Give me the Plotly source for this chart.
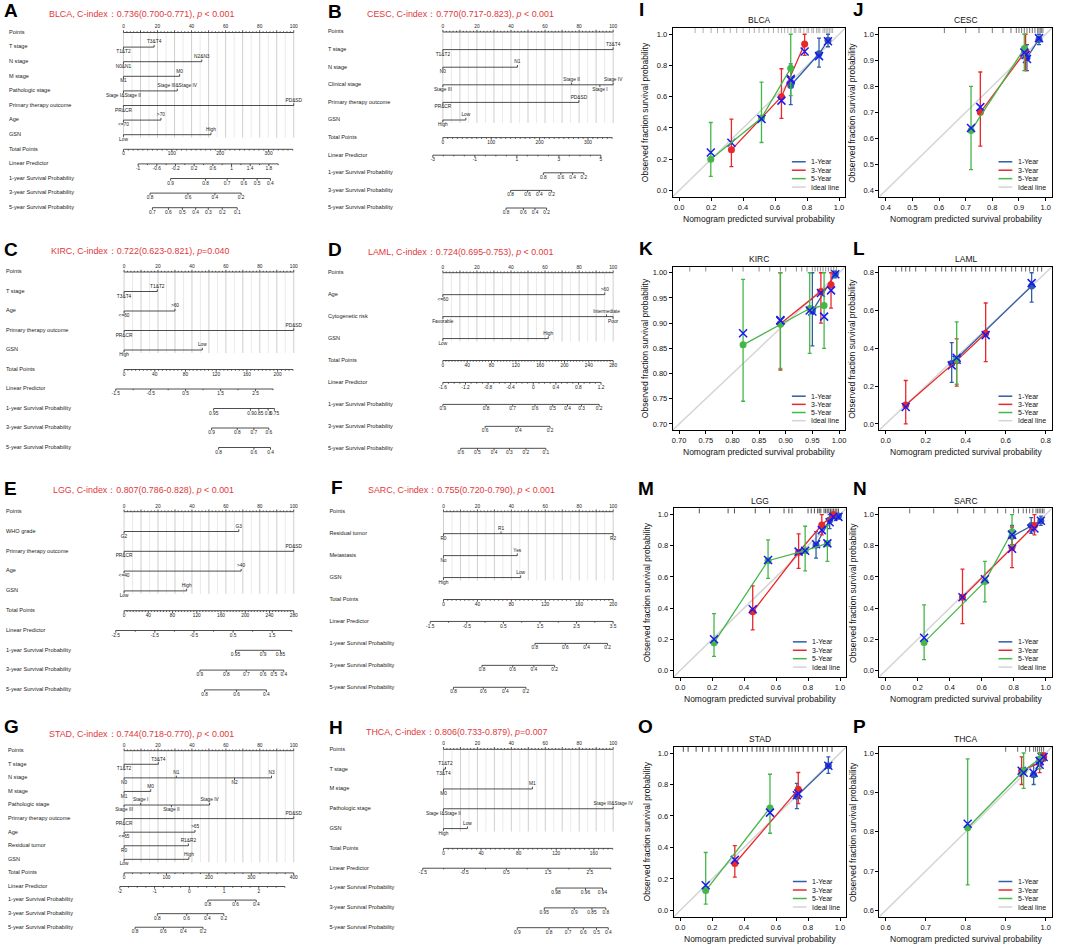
import plotly.graph_objects as go

W, H = 1065, 947
FONT = "Liberation Sans, Arial, sans-serif"
RED_TITLE = "#E2383D"
BLUE, RED, GREEN = "#2F5DA6", "#E8282B", "#45B649"
XBLUE = "#1A1AF0"
IDEAL = "#D4D4D4"

# ============================ NOMOGRAM DATA ============================
# ---- A: BLCA ----
A_title = "BLCA, C-index：0.736(0.700-0.771), <i>p</i> &lt; 0.001"
A_vars = ["T stage", "N stage", "M stage", "Pathologic stage",
          "Primary therapy outcome", "Age", "GSN"]
A_levels = [["T1&T2", "T3&T4"], ["N0&N1", "N2&N3"], ["M1", "M0"],
            ["Stage I&Stage II", "Stage III&Stage IV"], ["PR&CR", "PD&SD"],
            ["&lt;=70", ">70"], ["Low", "High"]]
A_points = [[0, 18], [0, 46], [0, 33], [0, 31.6], [0, 100], [0, 22], [0, 51.4]]
A_total = dict(labels=[0, 100, 200, 300], span=352, end=350, minor=10)
A_lp = dict(labels=[-1, -0.6, -0.2, 0.2, 0.6, 1, 1.4, 1.8], anchor=[(-1, 8.6), (1.8, 85.4)],
            extent=[-1, 2.0], minor=0.2)
A_s1 = [[0.9, 0.8, 0.7, 0.6, 0.5, 0.4], [27.7, 48.2, 60.9, 70.7, 78.5, 86.3]]
A_s3 = [[0.8, 0.6, 0.4, 0.2], [15.6, 37.9, 53.7, 69.1]]
A_s5 = [[0.7, 0.6, 0.5, 0.4, 0.3, 0.2, 0.1], [17.0, 26.4, 34.6, 42.4, 49.8, 58.0, 66.8]]

# ---- B: CESC ----
B_title = "CESC, C-index：0.770(0.717-0.823), <i>p</i> &lt; 0.001"
B_vars = ["T stage", "N stage", "Clinical stage", "Primary therapy outcome", "GSN"]
B_levels = [["T1&T2", "T3&T4"], ["N0", "N1"], ["Stage III", "Stage II", "Stage I", "Stage IV"],
            ["PR&CR", "PD&SD"], ["High", "Low"]]
B_points = [[0, 100], [0, 43.8], [0, 75.6, 92.2, 100], [0, 79.9], [0, 13.5]]
B_total = dict(labels=[0, 100, 200, 300], span=352, end=350, minor=10)
B_lp = dict(labels=[-3, -1, 1, 3, 5], anchor=[(-3, -5.9), (5, 92.8)], extent=[-3, 5], minor=0.5)
B_s1 = [[0.8, 0.6, 0.4, 0.2], [59.0, 69.3, 76.2, 82.8]]
B_s3 = [[0.8, 0.6, 0.4, 0.2], [39.8, 49.8, 56.6, 63.9]]
B_s5 = [[0.8, 0.6, 0.4, 0.2], [37.1, 47.3, 54.1, 60.9]]

# ---- C: KIRC ----
C_title = "KIRC, C-index：0.722(0.623-0.821), <i>p</i>=0.040"
C_vars = ["T stage", "Age", "Primary therapy outcome", "GSN"]
C_levels = [["T3&T4", "T1&T2"], ["&lt;=60", ">60"], ["PR&CR", "PD&SD"], ["High", "Low"]]
C_points = [[0, 19.6], [0, 30], [0, 100], [0, 46.1]]
C_total = dict(labels=[0, 40, 80, 120, 160, 200], span=221, end=220, minor=5)
C_lp = dict(labels=[-1.5, -0.5, 0.5, 1.5, 2.5], anchor=[(-1.5, -4.9), (2.5, 77.5)],
            extent=[-1.5, 3.0], minor=0.5)
C_s1 = [[0.95, 0.9, 0.85, 0.8, 0.75], [52.8, 74.5, 79.4, 84.9, 88.6]]
C_s3 = [[0.9, 0.8, 0.7, 0.6], [51.6, 66.7, 76.5, 85.3]]
C_s5 = [[0.8, 0.6, 0.4], [55.7, 76.5, 86.3]]

# ---- D: LAML ----
D_title = "LAML, C-index：0.724(0.695-0.753), <i>p</i> &lt; 0.001"
D_vars = ["Age", "Cytogenetic risk", "GSN"]
D_levels = [["&lt;=60", ">60"], ["Favorable", "Intermediate", "Poor"], ["Low", "High"]]
D_points = [[0, 95.1], [0, 96.1, 100], [0, 61.9]]
D_total = dict(labels=[0, 40, 80, 120, 160, 200, 240, 280], span=280, end=280, minor=5)
D_lp = dict(labels=[-1.6, -1.2, -0.8, -0.4, 0, 0.4, 0.8, 1.2], anchor=[(-1.6, 0.0), (1.2, 92.9)],
            extent=[-1.6, 1.2], minor=0.1)
D_s1 = [[0.9, 0.8, 0.7, 0.6, 0.5, 0.4, 0.3, 0.2], [0.0, 25.4, 41.0, 54.1, 64.5, 73.2, 81.4, 91.8]]
D_s3 = [[0.6, 0.4, 0.2], [24.8, 44.3, 62.9]]
D_s5 = [[0.6, 0.5, 0.4, 0.3, 0.2, 0.1], [10.5, 20.3, 30.1, 39.1, 48.8, 60.5]]

# ---- E: LGG ----
E_title = "LGG, C-index：0.807(0.786-0.828), <i>p</i> &lt; 0.001"
E_vars = ["WHO grade", "Primary therapy outcome", "Age", "GSN"]
E_levels = [["G2", "G3"], ["PR&CR", "PD&SD"], ["&lt;=40", ">40"], ["Low", "High"]]
E_points = [[0, 67.6], [0, 100], [0, 69], [0, 36.9]]
E_total = dict(labels=[0, 40, 80, 120, 160, 200, 240, 280], span=280, end=280, minor=5)
E_lp = dict(labels=[-2.5, -1.5, -0.5, 0.5, 1.5], anchor=[(-2.5, -4.9), (1.5, 87.3)],
            extent=[-2.5, 2.0], minor=0.5)
E_s1 = [[0.95, 0.9, 0.85], [65.7, 82.0, 92.2]]
E_s3 = [[0.9, 0.8, 0.7, 0.6, 0.5, 0.4], [44.7, 60.2, 72.0, 82.0, 88.2, 94.1]]
E_s5 = [[0.8, 0.6, 0.4], [47.5, 66.3, 83.9]]

# ---- F: SARC ----
F_title = "SARC, C-index：0.755(0.720-0.790), <i>p</i> &lt; 0.001"
F_vars = ["Residual tumor", "Metastasis", "GSN"]
F_levels = [["R0", "R1", "R2"], ["No", "Yes"], ["High", "Low"]]
F_points = [[0, 33.9, 100], [0, 43.5], [0, 45.5]]
F_total = dict(labels=[0, 40, 80, 120, 160, 200], span=200, end=200, minor=5)
F_lp = dict(labels=[-1.5, -0.5, 0.5, 1.5, 2.5, 3.5], anchor=[(-1.5, -7.8), (3.5, 100.0)],
            extent=[-1.5, 3.5], minor=0.5)
F_s1 = [[0.8, 0.6, 0.4, 0.2], [53.9, 71.8, 84.3, 96.7]]
F_s3 = [[0.8, 0.6, 0.4, 0.2], [22.7, 40.8, 53.3, 65.5]]
F_s5 = [[0.8, 0.6, 0.4, 0.2], [5.9, 23.5, 36.5, 48.6]]

# ---- G: STAD ----
G_title = "STAD, C-index：0.744(0.718-0.770), <i>p</i> &lt; 0.001"
G_vars = ["T stage", "N stage", "M stage", "Pathologic stage", "Primary therapy outcome",
          "Age", "Residual tumor", "GSN"]
G_levels = [["T1&T2", "T3&T4"], ["N0", "N1", "N2", "N3"], ["M1", "M0"],
            ["Stage III", "Stage I", "Stage II", "Stage IV"], ["PR&CR", "PD&SD"],
            ["&lt;=65", ">65"], ["R0", "R1&R2"], ["Low", "High"]]
G_points = [[0, 20.2], [0, 30.8, 65.1, 86.9], [0, 15.7], [0, 9.8, 27.9, 50.4], [0, 100],
            [0, 41.8], [0, 37.9], [0, 38.2]]
G_total = dict(labels=[0, 100, 200, 300, 400], span=400, end=400, minor=20)
G_lp = dict(labels=[-2, -1, 0, 1, 2], anchor=[(-2, -2.5), (2, 79.4)], extent=[-2, 2.75], minor=0.25)
G_s1 = [[0.8, 0.6, 0.4], [49.4, 65.7, 77.9]]
G_s3 = [[0.8, 0.6, 0.4, 0.2], [19.6, 36.9, 49.0, 58.8]]
G_s5 = [[0.8, 0.6, 0.4, 0.2], [6.5, 23.2, 34.9, 46.5]]

# ---- H: THCA ----
H_title = "THCA, C-index：0.806(0.733-0.879), <i>p</i>=0.007"
H_vars = ["T stage", "M stage", "Pathologic stage", "GSN"]
H_levels = [["T3&T4", "T1&T2"], ["M0", "M1"], ["Stage I&Stage II", "Stage III&Stage IV"],
            ["High", "Low"]]
H_points = [[0, 1.2], [0, 52.4], [0, 100], [0, 14.1]]
H_total = dict(labels=[0, 40, 80, 120, 160], span=180.5, end=180, minor=5)
H_lp = dict(labels=[-1.5, -0.5, 0.5, 1.5, 2.5], anchor=[(-1.5, -12.2), (2.5, 86.3)],
            extent=[-1.5, 3.0], minor=0.5)
H_s1 = [[0.98, 0.96, 0.94], [66.3, 83.7, 93.7]]
H_s3 = [[0.95, 0.9, 0.85, 0.8], [59.4, 77.1, 87.5, 95.7]]
H_s5 = [[0.9, 0.8, 0.7, 0.6, 0.5, 0.4], [43.5, 62.2, 73.5, 82.4, 90.2, 97.1]]

# ============================ CALIBRATION DATA ============================
# each series: predicted x, observed, CI low, CI high, bias-corrected
I_1y = dict(x=[0.698, 0.875, 0.931], obs=[0.672, 0.875, 0.961], lo=[0.55, 0.79, 0.92], hi=[0.81, 0.975, 1.0], corr=[0.715, 0.86, 0.955])
I_3y = dict(x=[0.327, 0.64, 0.785], obs=[0.26, 0.60, 0.938], lo=[0.152, 0.461, 0.865], hi=[0.457, 0.779, 1.0], corr=[0.305, 0.575, 0.89])
I_5y = dict(x=[0.198, 0.515, 0.698], obs=[0.20, 0.464, 0.783], lo=[0.09, 0.307, 0.607], hi=[0.435, 0.693, 1.0], corr=[0.243, 0.458, 0.705])
I_rug = [0.1, 0.15, 0.2, 0.24, 0.28, 0.32, 0.36, 0.4, 0.44, 0.47, 0.5, 0.53, 0.56, 0.59, 0.62, 0.64, 0.66,
         0.68, 0.7, 0.72, 0.73, 0.75, 0.76, 0.78, 0.8, 0.81, 0.83, 0.84, 0.86, 0.87, 0.88, 0.9, 0.91, 0.92,
         0.93, 0.94, 0.95, 0.96]

J_1y = dict(x=[0.93, 0.975], obs=[0.91, 0.98], lo=[0.86, 0.96], hi=[0.96, 1.0], corr=[0.905, 0.985])
J_3y = dict(x=[0.755, 0.925], obs=[0.70, 0.935], lo=[0.57, 0.86], hi=[0.855, 1.0], corr=[0.72, 0.92])
J_5y = dict(x=[0.72, 0.92], obs=[0.63, 0.945], lo=[0.48, 0.86], hi=[0.80, 1.0], corr=[0.64, 0.93])
J_rug = [0.62, 0.7, 0.75, 0.8, 0.84, 0.87, 0.89, 0.9, 0.91, 0.92, 0.93, 0.94, 0.95, 0.96, 0.97, 0.975,
         0.98, 0.985, 0.99]

K_1y = dict(x=[0.95, 0.993], obs=[0.924, 0.998], lo=[0.855, 0.99], hi=[1.0, 1.0], corr=[0.923, 0.997])
K_3y = dict(x=[0.89, 0.966, 0.985], obs=[0.899, 0.963, 0.976], lo=[0.807, 0.90, 0.93], hi=[1.0, 1.0, 1.0], corr=[0.906, 0.960, 0.965])
K_5y = dict(x=[0.82, 0.89, 0.945, 0.972], obs=[0.857, 0.898, 0.929, 0.935], lo=[0.745, 0.81, 0.84, 0.85], hi=[0.987, 1.0, 1.0, 1.0], corr=[0.88, 0.905, 0.925, 0.913])
K_rug = [0.72, 0.75, 0.8, 0.82, 0.85, 0.87, 0.89, 0.9, 0.92, 0.93, 0.94, 0.95, 0.955, 0.96, 0.965, 0.97,
         0.975, 0.98, 0.985, 0.99, 0.995]

L_1y = dict(x=[0.33, 0.73], obs=[0.32, 0.73], lo=[0.22, 0.645], hi=[0.43, 0.80], corr=[0.31, 0.745])
L_3y = dict(x=[0.10, 0.355, 0.50], obs=[0.10, 0.335, 0.48], lo=[0.0, 0.20, 0.33], hi=[0.23, 0.45, 0.64], corr=[0.09, 0.34, 0.47])
L_5y = dict(x=[0.355], obs=[0.34], lo=[0.21], hi=[0.54], corr=[0.35])
L_rug = [0.05, 0.08, 0.1, 0.12, 0.15, 0.2, 0.25, 0.28, 0.3, 0.33, 0.35, 0.38, 0.4, 0.43, 0.45, 0.48, 0.5,
         0.52, 0.55, 0.58, 0.6, 0.63, 0.65, 0.68, 0.7, 0.72, 0.74, 0.76, 0.78]

M_1y = dict(x=[0.85, 0.935, 0.99], obs=[0.805, 0.965, 0.99], lo=[0.72, 0.91, 0.97], hi=[0.89, 1.0, 1.0], corr=[0.81, 0.95, 0.985])
M_3y = dict(x=[0.454, 0.741, 0.886, 0.958], obs=[0.376, 0.758, 0.933, 1.0], lo=[0.26, 0.655, 0.87, 0.99], hi=[0.543, 0.876, 1.0, 1.0], corr=[0.393, 0.762, 0.90, 0.985])
M_5y = dict(x=[0.212, 0.55, 0.782, 0.921], obs=[0.178, 0.704, 0.768, 0.815], lo=[0.09, 0.59, 0.639, 0.70], hi=[0.365, 0.837, 0.925, 0.93], corr=[0.20, 0.708, 0.768, 0.815])
M_rug = [0.12, 0.3, 0.34, 0.47, 0.56, 0.65, 0.68, 0.7, 0.8, 0.82, 0.84, 0.86, 0.87, 0.88, 0.9, 0.91, 0.92,
         0.93, 0.94, 0.95, 0.96, 0.97, 0.98, 0.99]

N_1y = dict(x=[0.79, 0.91, 0.97], obs=[0.86, 0.93, 0.96], lo=[0.79, 0.88, 0.93], hi=[0.93, 0.98, 0.99], corr=[0.87, 0.91, 0.96])
N_3y = dict(x=[0.48, 0.79, 0.93], obs=[0.47, 0.79, 0.93], lo=[0.30, 0.66, 0.87], hi=[0.65, 0.92, 1.0], corr=[0.47, 0.78, 0.91])
N_5y = dict(x=[0.24, 0.62, 0.79], obs=[0.18, 0.57, 0.89], lo=[0.07, 0.44, 0.80], hi=[0.42, 0.70, 1.0], corr=[0.21, 0.585, 0.87])
N_rug = [0.15, 0.3, 0.45, 0.55, 0.62, 0.7, 0.75, 0.8, 0.83, 0.86, 0.88, 0.9, 0.92, 0.94, 0.95, 0.96, 0.97,
         0.98, 0.99]

O_1y = dict(x=[0.73, 0.927], obs=[0.726, 0.919], lo=[0.647, 0.87], hi=[0.807, 0.975], corr=[0.732, 0.919])
O_3y = dict(x=[0.342, 0.739], obs=[0.298, 0.769], lo=[0.212, 0.679], hi=[0.411, 0.876], corr=[0.321, 0.743])
O_5y = dict(x=[0.16, 0.562], obs=[0.126, 0.651], lo=[0.04, 0.49], hi=[0.368, 0.865], corr=[0.16, 0.621])
O_rug = [0.02, 0.05, 0.1, 0.14, 0.18, 0.22, 0.26, 0.3, 0.33, 0.36, 0.39, 0.42, 0.45, 0.48, 0.5, 0.52, 0.55,
         0.58, 0.6, 0.62, 0.65, 0.68, 0.7, 0.72, 0.74, 0.77, 0.8, 0.83, 0.86, 0.89, 0.92, 0.95]

P_1y = dict(x=[0.97, 0.99], obs=[0.945, 0.985], lo=[0.92, 0.97], hi=[0.97, 1.0], corr=[0.95, 0.99])
P_3y = dict(x=[0.94, 0.985, 0.995], obs=[0.955, 0.975, 0.99], lo=[0.92, 0.95, 0.98], hi=[0.99, 1.0, 1.0], corr=[0.955, 0.97, 0.99])
P_5y = dict(x=[0.805, 0.945, 0.985], obs=[0.81, 0.955, 0.985], lo=[0.665, 0.91, 0.96], hi=[0.985, 1.0, 1.0], corr=[0.82, 0.95, 0.98])
P_rug = [0.9, 0.93, 0.95, 0.96, 0.97, 0.975, 0.98, 0.985, 0.99, 0.995]

# ============================ LAYOUT (pixel positions) ============================
NOMO_LAYOUT = {
    "A": dict(px0=122.7, px100=293.3, label_x=8, y0=32.5, gap=14.6, title=(46.5, 14), letter=(1, 11)),
    "B": dict(px0=442.7, px100=613.3, label_x=327.5, y0=32.0, gap=17.6, title=(364.5, 14.5), letter=(326, 12)),
    "C": dict(px0=123.3, px100=293.3, label_x=5, y0=272.0, gap=19.5, title=(48.5, 251), letter=(1, 249)),
    "D": dict(px0=442.7, px100=613.3, label_x=327.5, y0=272.7, gap=21.95, title=(366, 252), letter=(326, 249)),
    "E": dict(px0=123.3, px100=293.3, label_x=5, y0=511.7, gap=19.8, title=(50.5, 489.7), letter=(1, 488)),
    "F": dict(px0=443.3, px100=613.3, label_x=329, y0=511.7, gap=21.95, title=(366, 490.5), letter=(328.5, 487.5)),
    "G": dict(px0=123.3, px100=293.3, label_x=7, y0=750.7, gap=13.58, title=(46.5, 733.8), letter=(1, 726.5)),
    "H": dict(px0=443.3, px100=613.3, label_x=329, y0=749.3, gap=19.82, title=(363.5, 732), letter=(327, 727.5)),
}
CAL_LAYOUT = {
    "I": dict(L=673, R=846, T=28, B=196.7, letter=(637, 10)),
    "J": dict(L=880, R=1053, T=28, B=196.7, letter=(852, 10)),
    "K": dict(L=673, R=846, T=266.7, B=430, letter=(637, 248.5)),
    "L": dict(L=880, R=1053, T=266.7, B=430, letter=(852, 248.5)),
    "M": dict(L=674, R=847, T=508.3, B=676.7, letter=(636, 488)),
    "N": dict(L=880, R=1053, T=508.3, B=676.7, letter=(852, 488)),
    "O": dict(L=674, R=847, T=746.7, B=916.7, letter=(636, 726.5)),
    "P": dict(L=880, R=1053, T=746.7, B=916.7, letter=(852, 726.5)),
}

# ============================ BUILD ============================
fig = go.Figure()
LAY = {}
ANN = []
SHP = []
_n = [0]


def new_axes(xpx, ypx, xrange, yrange, visible=False, ticks=None, fmt="{:.1f}"):
    _n[0] += 1
    sx = "" if _n[0] == 1 else str(_n[0])
    xdom = [max(0, xpx[0] / W), min(1, xpx[1] / W)]
    ydom = [max(0, 1 - ypx[1] / H), min(1, 1 - ypx[0] / H)]
    base = dict(showgrid=False, zeroline=False, fixedrange=True)
    if visible:
        ax = dict(base, visible=True, showline=True, mirror=True, linecolor="black", linewidth=1,
                  ticks="outside", ticklen=3, tickwidth=1, tickcolor="black",
                  tickfont=dict(size=7.5, color="#111", family=FONT),
                  tickvals=ticks, ticktext=[fmt.format(v) for v in ticks])
        LAY["xaxis" + sx] = dict(ax, domain=xdom, range=xrange, anchor="y" + sx)
        LAY["yaxis" + sx] = dict(ax, domain=ydom, range=yrange, anchor="x" + sx)
    else:
        LAY["xaxis" + sx] = dict(base, visible=False, domain=xdom, range=xrange, anchor="y" + sx)
        LAY["yaxis" + sx] = dict(base, visible=False, domain=ydom, range=yrange, anchor="x" + sx)
    return "x" + sx, "y" + sx


def fmtnum(v):
    return f"{v:g}"


def add_nomogram(letter, title, vars_, levels, points, total, lp, s1, s3, s5):
    lay = NOMO_LAYOUT[letter]
    s = (lay["px100"] - lay["px0"]) / 100.0
    left, right = lay["label_x"], lay["px100"] + 20
    rows = ["Points"] + vars_ + ["Total Points", "Linear Predictor",
                                 "1-year Survival Probability", "3-year Survival Probability",
                                 "5-year Survival Probability"]
    ys = [lay["y0"] + i * lay["gap"] for i in range(len(rows))]
    top, bottom = ys[0] - 12, ys[-1] + 10
    xrange = [(left - lay["px0"]) / s, (right - lay["px0"]) / s]
    xr, yr = new_axes((left, right), (top, bottom), xrange, [bottom, top])

    lx, ly = [], []
    tx, ty, tt = [], [], []
    TL, TS, OFF = 2.2, 1.2, 4.9

    def seg(x0, y0, x1, y1):
        lx.extend([x0, x1, None])
        ly.extend([y0, y1, None])

    def lab(x, y, t):
        tx.append(x); ty.append(y); tt.append(t)

    # grid lines
    nv = len(vars_)
    g_major_x, g_major_y, g_minor_x, g_minor_y = [], [], [], []
    for v in range(0, 101, 5):
        gx, gy = (g_major_x, g_major_y) if v % 10 == 0 else (g_minor_x, g_minor_y)
        gx.extend([v, v, None]); gy.extend([ys[0], ys[nv] + 3, None])
    fig.add_trace(go.Scatter(x=g_minor_x, y=g_minor_y, mode="lines", line=dict(color="#EAEAEA", width=1),
                             xaxis=xr, yaxis=yr, hoverinfo="skip", showlegend=False))
    fig.add_trace(go.Scatter(x=g_major_x, y=g_major_y, mode="lines", line=dict(color="#CFCFCF", width=1),
                             xaxis=xr, yaxis=yr, hoverinfo="skip", showlegend=False))

    # Points scale
    y = ys[0]
    seg(0, y, 100, y)
    for v in range(0, 101, 2):
        seg(v, y, v, y - (TL if v % 10 == 0 else TS))
    for v in range(0, 101, 20):
        lab(v, y - OFF - 0.3, str(v))

    # variables
    for i, (lv, pt) in enumerate(zip(levels, points)):
        y = ys[i + 1]
        seg(min(pt), y, max(pt), y)
        order = sorted(range(len(pt)), key=lambda k: pt[k])
        for j, k in enumerate(order):
            up = (j % 2 == 1)
            seg(pt[k], y, pt[k], y - TL if up else y + TL)
            lab(pt[k], y - OFF if up else y + OFF, lv[k])

    # Total points
    y = ys[nv + 1]
    f = 100.0 / total["span"]
    seg(0, y, total["end"] * f, y)
    nmin = int(round(total["end"] / total["minor"]))
    for k in range(nmin + 1):
        v = k * total["minor"]
        major = any(abs(v - l) < 1e-9 for l in total["labels"])
        seg(v * f, y, v * f, y + (TL if major else TS))
    for v in total["labels"]:
        lab(v * f, y + OFF, fmtnum(v))

    # Linear predictor
    (va, pa), (vb, pb) = lp["anchor"]

    def lpmap(v):
        return pa + (v - va) * (pb - pa) / (vb - va)
    y = ys[nv + 2]
    seg(lpmap(lp["extent"][0]), y, lpmap(lp["extent"][1]), y)
    nmin = int(round((lp["extent"][1] - lp["extent"][0]) / lp["minor"]))
    for k in range(nmin + 1):
        v = lp["extent"][0] + k * lp["minor"]
        major = any(abs(v - l) < 1e-6 for l in lp["labels"])
        seg(lpmap(v), y, lpmap(v), y + (TL if major else TS))
    for v in lp["labels"]:
        lab(lpmap(v), y + OFF, fmtnum(v))

    # survival scales
    for r, sv in enumerate([s1, s3, s5]):
        y = ys[nv + 3 + r]
        vals, pos = sv
        seg(min(pos), y, max(pos), y)
        for v, p in zip(vals, pos):
            seg(p, y, p, y + TL)
            lab(p, y + OFF, fmtnum(v))

    fig.add_trace(go.Scatter(x=lx, y=ly, mode="lines", line=dict(color="#3A3A3A", width=0.9),
                             xaxis=xr, yaxis=yr, hoverinfo="skip", showlegend=False))
    fig.add_trace(go.Scatter(x=tx, y=ty, text=tt, mode="text", textposition="middle center",
                             textfont=dict(size=4.8, color="#222", family=FONT), cliponaxis=False,
                             xaxis=xr, yaxis=yr, hoverinfo="skip", showlegend=False))
    fig.add_trace(go.Scatter(x=[xrange[0]] * len(rows), y=ys, text=rows, mode="text",
                             textposition="middle right",
                             textfont=dict(size=5.6, color="#222", family=FONT), cliponaxis=False,
                             xaxis=xr, yaxis=yr, hoverinfo="skip", showlegend=False))
    ANN.append(dict(x=lay["title"][0] / W, y=1 - lay["title"][1] / H, xref="paper", yref="paper",
                    text=title, showarrow=False, xanchor="left", yanchor="middle",
                    font=dict(size=8.9, color=RED_TITLE, family=FONT)))
    ANN.append(dict(x=lay["letter"][0] / W, y=1 - lay["letter"][1] / H, xref="paper", yref="paper",
                    text="<b>" + letter + "</b>", showarrow=False, xanchor="left", yanchor="middle",
                    font=dict(size=19, color="black", family=FONT)))


def add_calib(letter, title, lim, ticks, fmt, series, rug, rugcol):
    lay = CAL_LAYOUT[letter]
    lo, hi = lim
    pad = 0.04 * (hi - lo)
    rng = [lo - pad, hi + pad]
    xr, yr = new_axes((lay["L"], lay["R"]), (lay["T"], lay["B"]), rng, rng, True, ticks, fmt)
    fig.add_trace(go.Scatter(x=rng, y=rng, mode="lines", line=dict(color=IDEAL, width=1.5),
                             xaxis=xr, yaxis=yr, hoverinfo="skip", showlegend=False))
    rx, ry = [], []
    rl = 0.03 * (rng[1] - rng[0])
    for v in rug:
        rx.extend([v, v, None]); ry.extend([rng[1], rng[1] - rl, None])
    fig.add_trace(go.Scatter(x=rx, y=ry, mode="lines", line=dict(color=rugcol, width=0.8),
                             xaxis=xr, yaxis=yr, hoverinfo="skip", showlegend=False))
    for sd, col in zip(series, [BLUE, RED, GREEN]):
        fig.add_trace(go.Scatter(x=sd["x"], y=sd["obs"], mode="lines", line=dict(color=col, width=1.3),
                                 xaxis=xr, yaxis=yr, hoverinfo="skip", showlegend=False))
        fig.add_trace(go.Scatter(
            x=sd["x"], y=sd["obs"], mode="markers",
            marker=dict(color=col, size=7, symbol="circle"),
            error_y=dict(type="data", symmetric=False,
                         array=[h - o for h, o in zip(sd["hi"], sd["obs"])],
                         arrayminus=[o - l for o, l in zip(sd["obs"], sd["lo"])],
                         color=col, thickness=1.3, width=2),
            xaxis=xr, yaxis=yr, hoverinfo="skip", showlegend=False, cliponaxis=False))
        fig.add_trace(go.Scatter(x=sd["x"], y=sd["corr"], mode="markers",
                                 marker=dict(symbol="x-thin", size=8, line=dict(color=XBLUE, width=1.5)),
                                 xaxis=xr, yaxis=yr, hoverinfo="skip", showlegend=False, cliponaxis=False))
    # legend (drawn inside plot frame)
    names = ["1-Year", "3-Year", "5-Year", "Ideal line"]
    cols = [BLUE, RED, GREEN, IDEAL]
    fys = [0.207, 0.157, 0.107, 0.057]
    for nm, c, fy in zip(names, cols, fys):
        SHP.append(dict(type="line", xref=xr + " domain", yref=yr + " domain", x0=0.69, x1=0.77,
                        y0=fy, y1=fy, line=dict(color=c, width=1.5)))
        ANN.append(dict(x=0.79, y=fy, xref=xr + " domain", yref=yr + " domain", text=nm,
                        showarrow=False, xanchor="left", yanchor="middle",
                        font=dict(size=7, color="#111", family=FONT)))
    cx = (lay["L"] + lay["R"]) / 2
    ANN.append(dict(x=cx / W, y=1 - (lay["T"] - 7.5) / H, xref="paper", yref="paper", text=title,
                    showarrow=False, xanchor="center", yanchor="middle",
                    font=dict(size=8.5, color="#111", family=FONT)))
    ANN.append(dict(x=cx / W, y=1 - (lay["B"] + 22.3) / H, xref="paper", yref="paper",
                    text="Nomogram predicted survival probability", showarrow=False,
                    xanchor="center", yanchor="middle", font=dict(size=8.5, color="#111", family=FONT)))
    ANN.append(dict(x=(lay["L"] - 27) / W, y=1 - ((lay["T"] + lay["B"]) / 2) / H, xref="paper",
                    yref="paper", text="Observed fraction survival probability", showarrow=False,
                    textangle=-90, xanchor="center", yanchor="middle",
                    font=dict(size=8.5, color="#111", family=FONT)))
    ANN.append(dict(x=lay["letter"][0] / W, y=1 - lay["letter"][1] / H, xref="paper", yref="paper",
                    text="<b>" + letter + "</b>", showarrow=False, xanchor="left", yanchor="middle",
                    font=dict(size=19, color="black", family=FONT)))


add_nomogram("A", A_title, A_vars, A_levels, A_points, A_total, A_lp, A_s1, A_s3, A_s5)
add_nomogram("B", B_title, B_vars, B_levels, B_points, B_total, B_lp, B_s1, B_s3, B_s5)
add_nomogram("C", C_title, C_vars, C_levels, C_points, C_total, C_lp, C_s1, C_s3, C_s5)
add_nomogram("D", D_title, D_vars, D_levels, D_points, D_total, D_lp, D_s1, D_s3, D_s5)
add_nomogram("E", E_title, E_vars, E_levels, E_points, E_total, E_lp, E_s1, E_s3, E_s5)
add_nomogram("F", F_title, F_vars, F_levels, F_points, F_total, F_lp, F_s1, F_s3, F_s5)
add_nomogram("G", G_title, G_vars, G_levels, G_points, G_total, G_lp, G_s1, G_s3, G_s5)
add_nomogram("H", H_title, H_vars, H_levels, H_points, H_total, H_lp, H_s1, H_s3, H_s5)

T01 = [0.0, 0.2, 0.4, 0.6, 0.8, 1.0]
add_calib("I", "BLCA", (0, 1), T01, "{:.1f}", [I_1y, I_3y, I_5y], I_rug, "#9A9A9A")
add_calib("J", "CESC", (0.4, 1), [0.4, 0.5, 0.6, 0.7, 0.8, 0.9, 1.0], "{:.1f}", [J_1y, J_3y, J_5y], J_rug, "#555")
add_calib("K", "KIRC", (0.7, 1), [0.70, 0.75, 0.80, 0.85, 0.90, 0.95, 1.00], "{:.2f}", [K_1y, K_3y, K_5y], K_rug, "#777")
add_calib("L", "LAML", (0.0, 0.8), [0.0, 0.2, 0.4, 0.6, 0.8], "{:.1f}", [L_1y, L_3y, L_5y], L_rug, "#444")
add_calib("M", "LGG", (0, 1), T01, "{:.1f}", [M_1y, M_3y, M_5y], M_rug, "#222")
add_calib("N", "SARC", (0, 1), T01, "{:.1f}", [N_1y, N_3y, N_5y], N_rug, "#444")
add_calib("O", "STAD", (0, 1), T01, "{:.1f}", [O_1y, O_3y, O_5y], O_rug, "#222")
add_calib("P", "THCA", (0.6, 1), [0.6, 0.7, 0.8, 0.9, 1.0], "{:.1f}", [P_1y, P_3y, P_5y], P_rug, "#444")

fig.update_layout(width=W, height=H, margin=dict(l=0, r=0, t=0, b=0),
                  paper_bgcolor="white", plot_bgcolor="white", showlegend=False,
                  font=dict(family=FONT), annotations=ANN, shapes=SHP, **LAY)
fig.write_html("out.html", config={"displayModeBar": False, "staticPlot": True},
               post_script="document.body.style.margin='0';document.body.style.overflow='hidden';")
